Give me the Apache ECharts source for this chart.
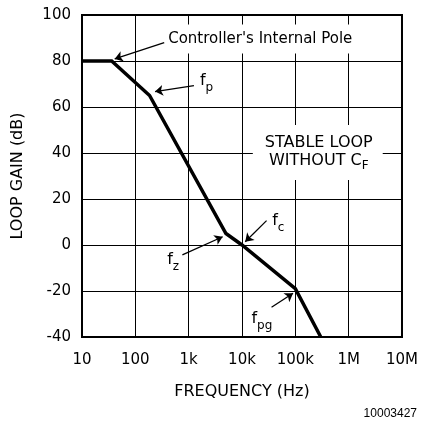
<!DOCTYPE html>
<html><head><meta charset="utf-8">
<script src="https://cdn.jsdelivr.net/npm/echarts@6/dist/echarts.min.js"></script>
<style>html,body{margin:0;padding:0;background:#fff}#c{width:421px;height:427px}</style>
</head><body><div id="c"></div>
<script>
// Loop gain curve (asymptotic)
const freq = [10, 36, 185, 5000, 10000, 100000, 300000];
const gain = [80, 80, 65, 5, 0, -19, -40];
// Axis tick labels
const xTickLabels = ['10', '100', '1k', '10k', '100k', '1M', '10M'];
const yTickValues = [-40, -20, 0, 20, 40, 60, 80, 100];
// Annotation arrows (data coordinates): from -> to
const arrowFrom = [[348, 88.0], [1256, 69.3], [762, -4.3], [28900, 10.6], [35800, -27.1]];
const arrowTo = [[41, 80.9], [234, 66.7], [4345, 3.6], [11500, 1.4], [90600, -21]];
// Annotation labels
const labelTexts = ["Controller's Internal Pole", '{m|f}{s|p}', '{m|f}{s|z}', '{m|f}{s|c}', '{m|f}{s|pg}'];
const labelPos = [[363, 89.6], [1626, 71.3], [396, -6.5], [36900, 10.4], [15000, -32]];
const boxText = '{b|STABLE LOOP}\n{b|WITHOUT C}{sf|F}';
const boxPos = [263600, 40.2];
const footnote = '10003427';

const FONT = 'DejaVu Sans';
const chart = echarts.init(document.getElementById('c'), null, {renderer: 'canvas'});

const labelData = labelTexts.map((t, i) => ({
  value: labelPos[i],
  label: i === 0
    ? {formatter: t, fontSize: 15, backgroundColor: '#fff', padding: [7, 3]}
    : {formatter: t}
}));
labelData.push({
  value: boxPos,
  label: {formatter: boxText, position: 'inside', align: 'center', backgroundColor: '#fff', padding: [9, 10, 10, 12]}
});

chart.setOption({
  animation: false,
  backgroundColor: '#fff',
  grid: {left: 82, right: 16, top: 15, bottom: 90, show: true, borderColor: '#000', borderWidth: 2, backgroundColor: 'transparent'},
  xAxis: {
    type: 'log', logBase: 10, min: 10, max: 1e7,
    axisLine: {show: true, onZero: false, lineStyle: {color: '#000', width: 2}},
    axisTick: {show: false},
    splitLine: {show: true, lineStyle: {color: '#000', width: 1}},
    axisLabel: {
      color: '#000', fontSize: 15, fontFamily: FONT, margin: 16,
      formatter: v => xTickLabels[Math.round(Math.log10(v)) - 1]
    },
    name: 'FREQUENCY (Hz)', nameLocation: 'middle', nameGap: 47,
    nameTextStyle: {color: '#000', fontSize: 16, fontFamily: FONT}
  },
  yAxis: {
    type: 'value', min: yTickValues[0], max: yTickValues[yTickValues.length - 1], interval: 20,
    axisLine: {show: true, onZero: false, lineStyle: {color: '#000', width: 2}},
    axisTick: {show: false},
    splitLine: {show: true, lineStyle: {color: '#000', width: 1}},
    axisLabel: {color: '#000', fontSize: 15, fontFamily: FONT, margin: 11},
    name: 'LOOP GAIN (dB)', nameLocation: 'middle', nameGap: 56,
    nameTextStyle: {color: '#000', fontSize: 16, fontFamily: FONT}
  },
  series: [
    {
      type: 'scatter', z: 2, symbolSize: 0, silent: true,
      itemStyle: {opacity: 1, color: '#000'},
      data: labelData,
      label: {
        show: true, position: 'right', distance: 0, color: '#000', opacity: 1, fontFamily: FONT, fontSize: 16,
        rich: {
          m: {fontSize: 16, lineHeight: 16, fontFamily: FONT, color: '#000'},
          s: {fontSize: 12, lineHeight: 12, fontFamily: FONT, color: '#000', padding: [14, 0, 0, 0]},
          b: {fontSize: 16, lineHeight: 18, fontFamily: FONT, color: '#000'},
          sf: {fontSize: 12, lineHeight: 12, fontFamily: FONT, color: '#000', padding: [10, 0, 0, 0]}
        }
      }
    },
    {
      type: 'line', z: 4, symbol: 'none', silent: true,
      data: freq.map((f, i) => [f, gain[i]]),
      lineStyle: {color: '#000', width: 3.5, join: 'miter'}
    },
    {
      type: 'lines', coordinateSystem: 'cartesian2d', z: 5, silent: true,
      symbol: ['none', 'arrow'], symbolSize: 8,
      lineStyle: {color: '#000', width: 1.3, opacity: 1},
      data: arrowFrom.map((a, i) => ({coords: [a, arrowTo[i]]}))
    }
  ],
  graphic: [{
    type: 'text', right: 4, top: 408,
    style: {text: footnote, fill: '#000', font: '12px "Liberation Sans", Arial, sans-serif'}
  }]
});
</script></body></html>
